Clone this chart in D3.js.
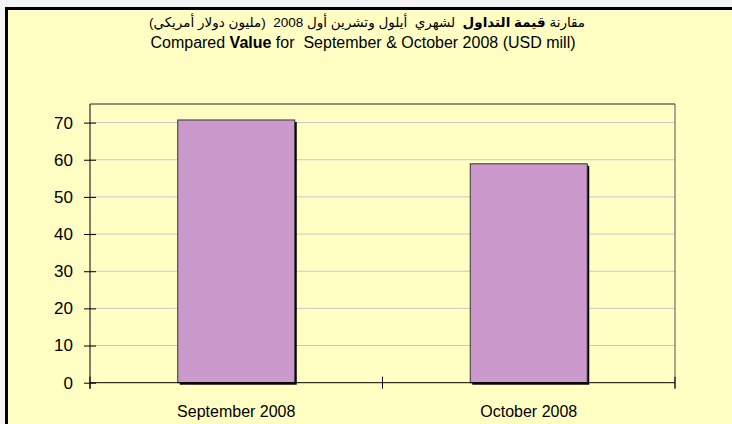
<!DOCTYPE html>
<html>
<head>
<meta charset="utf-8">
<script src="https://cdn.jsdelivr.net/npm/d3@7"></script>
<style>
  body { margin: 0; background: #f4f4f4; }
  svg { display: block; font-family: "Liberation Sans", Arial, "DejaVu Sans", sans-serif; }
  text { white-space: pre; }
</style>
</head>
<body>
<svg width="732" height="424"></svg>
<script>
// قيم الرسم
const categories = ["September 2008", "October 2008"];
const values = [70.7, 58.9];
const yTicks = [0, 10, 20, 30, 40, 50, 60, 70];

const svg = d3.select("svg");
const width = +svg.attr("width");
const height = +svg.attr("height");

// الخلفية الصفراء والإطار
svg.append("rect")
    .attr("x", 6.5).attr("y", 8.5)
    .attr("width", width + 10).attr("height", height + 10)
    .attr("fill", "#ffffc4")
    .attr("stroke", "#000")
    .attr("stroke-width", 3);

// العنوان
const title = svg.append("g").attr("fill", "#000");
const ar = title.append("text")
    .attr("x", 367).attr("y", 27)
    .attr("font-size", 13.5)
    .attr("text-anchor", "middle")
    .attr("direction", "rtl");
ar.append("tspan").text("مقارنة ");
ar.append("tspan").attr("font-weight", "bold").text("قيمة التداول");
ar.append("tspan").text("  لشهري  أيلول وتشرين أول 2008  (مليون دولار أمريكي)");

const en = title.append("text")
    .attr("x", 363).attr("y", 48)
    .attr("font-size", 16)
    .attr("text-anchor", "middle");
en.append("tspan").text("Compared ");
en.append("tspan").attr("font-weight", "bold").text("Value");
en.append("tspan").text(" for  September & October 2008 (USD mill)");

// منطقة الرسم
const plotLeft = 90, plotRight = 675, plotTop = 104, plotBottom = 382.7;

const x = d3.scaleBand()
    .domain(categories)
    .range([plotLeft, plotRight])
    .paddingInner(0.6)
    .paddingOuter(0.3);

const y = d3.scaleLinear()
    .domain([0, 75])
    .range([plotBottom, plotTop]);

// خطوط الشبكة
svg.append("g")
    .selectAll("line")
    .data(yTicks.filter(d => d > 0))
    .join("line")
    .attr("x1", plotLeft).attr("x2", plotRight)
    .attr("y1", d => y(d)).attr("y2", d => y(d))
    .attr("stroke", "#c8c8c8")
    .attr("stroke-width", 1);

// حدود منطقة الرسم (أعلى ويمين)
svg.append("line")
    .attr("x1", plotLeft).attr("x2", plotRight)
    .attr("y1", plotTop).attr("y2", plotTop)
    .attr("stroke", "#222");
svg.append("line")
    .attr("x1", plotRight).attr("x2", plotRight)
    .attr("y1", plotTop).attr("y2", plotBottom + 6)
    .attr("stroke", "#555");

// الأعمدة مع الظل
const bars = svg.append("g");
bars.selectAll("rect.shadow")
    .data(values)
    .join("rect")
    .attr("class", "shadow")
    .attr("x", (d, i) => x(categories[i]) + 2)
    .attr("y", d => y(d) + 2)
    .attr("width", x.bandwidth())
    .attr("height", d => plotBottom - y(d))
    .attr("fill", "#000");
bars.selectAll("rect.bar")
    .data(values)
    .join("rect")
    .attr("class", "bar")
    .attr("x", (d, i) => x(categories[i]))
    .attr("y", d => y(d))
    .attr("width", x.bandwidth())
    .attr("height", d => plotBottom - y(d))
    .attr("fill", "#cc99cc")
    .attr("stroke", "#333")
    .attr("stroke-width", 1);

// المحور الصادي
const yAxis = svg.append("g")
    .attr("transform", `translate(${plotLeft},0)`)
    .call(d3.axisLeft(y).tickValues(yTicks).tickSize(6).tickPadding(11));
yAxis.select(".domain").attr("d", `M0,${plotBottom + 6}V${plotTop}`).attr("stroke", "#000");
yAxis.selectAll(".tick line").attr("x1", -6).attr("x2", 6).attr("stroke", "#000");
yAxis.selectAll(".tick text")
    .attr("font-size", 17)
    .attr("font-family", "Liberation Sans, Arial, sans-serif")
    .attr("fill", "#000");

// المحور السيني
svg.append("line")
    .attr("x1", plotLeft).attr("x2", plotRight)
    .attr("y1", plotBottom).attr("y2", plotBottom)
    .attr("stroke", "#000");
const step = x.step();
svg.append("g")
    .selectAll("line")
    .data([0, 1, 2])
    .join("line")
    .attr("x1", d => plotLeft + d * step).attr("x2", d => plotLeft + d * step)
    .attr("y1", plotBottom - 6).attr("y2", plotBottom + 6)
    .attr("stroke", "#000");

svg.append("g")
    .selectAll("text")
    .data(categories)
    .join("text")
    .attr("x", d => x(d) + x.bandwidth() / 2)
    .attr("y", 416.5)
    .attr("text-anchor", "middle")
    .attr("font-size", 16)
    .attr("fill", "#000")
    .text(d => d);
</script>
</body>
</html>
